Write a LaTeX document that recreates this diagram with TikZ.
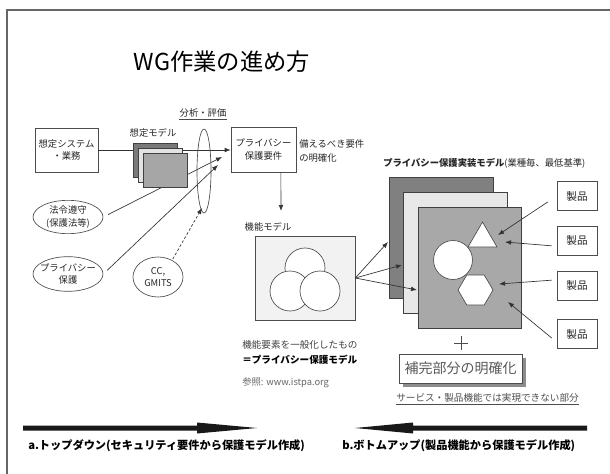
\documentclass[tikz,border=0pt]{standalone}
\usepackage{fontspec}
\setmainfont{Noto Sans CJK JP}
\usetikzlibrary{arrows.meta,shapes.geometric,calc,shadows}
\begin{document}
\begin{tikzpicture}[x=0.75pt,y=-0.75pt,
  every node/.style={inner sep=0pt, text=black!85},
  lbl/.style={font=\fontsize{7}{9.5}\selectfont, align=center},
  box/.style={draw=black!70, line width=0.5pt, fill=white, rectangle},
  oval/.style={draw=black!70, line width=0.5pt, ellipse, inner xsep=-4pt, inner ysep=0pt},
  arr/.style={draw=black!80, line width=0.5pt, -{Latex[length=4.5pt,width=3.5pt]}},
  ln/.style={draw=black!70, line width=0.5pt},
  card/.style={draw=black!75, line width=0.5pt, rectangle},
  bigarrow/.style={fill=black!90},
]
\useasboundingbox (0,0) rectangle (610,474);
% frame
\draw[black!60, line width=0.8pt] (7,474) -- (7,10) -- (610,10);

% title
\node[font=\fontsize{17.5}{20}\selectfont, text=black] (title) at (222,62) {WG作業の進め方};

% left boxes and ovals
\node[box, lbl, minimum width=47.25pt, minimum height=33pt] (sys) at (66.5,150) {想定システム\\・業務};
\node[box, lbl, minimum width=48.75pt, minimum height=33.75pt] (req) at (263.5,149.5) {プライバシー\\保護要件};
\node[oval, lbl, minimum width=52.5pt, minimum height=25pt] (law) at (68,217) {法令遵守\\(保護法等)};
\node[oval, lbl, minimum width=52.5pt, minimum height=26pt] (priv) at (68,274) {プライバシー\\保護};
\node[oval, lbl, minimum width=37.5pt, minimum height=30pt] (cc) at (158,277) {CC,\\GMITS};

\coordinate (t1) at (222,157);
\coordinate (t2) at (218,165);
\coordinate (t3) at (202,208);

% connectors behind the model cards
\draw[arr] (sys.east) -- (sys.east -| req.west);
\draw[arr, shorten <=4pt] (law.east) -- (t1);
\draw[arr, shorten <=4pt] (priv.east) -- (t2);
\draw[arr, dash pattern=on 2pt off 1.5pt, shorten <=1pt] (cc.50) -- (t3);

% assumed model cards
\node[lbl] (mlbl) at (153,133) {想定モデル};
\node[card, fill=black!52, minimum width=33pt, minimum height=25.5pt] (m1) at (155,160) {};
\node[card, fill=black!11, minimum width=33pt, minimum height=25.5pt] (m2) at (160,165) {};
\node[card, fill=black!35, minimum width=33pt, minimum height=25.5pt] (m3) at (165,170) {};

% analysis ellipse
\node[draw=black!70, line width=0.5pt, ellipse, minimum width=10.5pt, minimum height=63pt] (anal) at (204,171) {};
\node[lbl] (anallbl) at (203,113) {分析・評価};
\draw[ln] ([yshift=-1pt]anallbl.south west) -- ([yshift=-1pt]anallbl.south east);

\node[lbl, align=left, anchor=west, font=\fontsize{7}{10.5}\selectfont] (need) at (299,151) {備えるべき要件\\の明確化};

% functional model
\coordinate (t4) at (281,211);
\draw[arr] ([xshift=13pt]req.south) -- (t4);
\node[lbl] (fmlbl) at (268,227) {機能モデル};
\node[box, fill=black!5, minimum width=75pt, minimum height=63pt] (fm) at (305,278) {};
\draw[ln, fill=white] (305,268) circle [radius=15pt];
\draw[ln, fill=white] (290,291) circle [radius=15pt];
\draw[ln, fill=white] (320,291) circle [radius=15pt];

\node[anchor=west, font=\fontsize{7.2}{9}\selectfont, text=black!75] (gen1) at (242,345) {機能要素を一般化したもの};
\node[anchor=west, font=\fontsize{7.2}{9}\selectfont\bfseries, text=black] (gen2) at (242,360) {＝プライバシー保護モデル};
\node[anchor=west, font=\fontsize{7}{9}\selectfont, text=black!60] (ref) at (242,383) {参照: www.istpa.org};

% implementation model cards
\node[anchor=west, font=\fontsize{7}{9}\selectfont] (imlbl) at (383,163) {\textbf{プライバシー保護実装モデル}(業種毎、最低基準)};
\node[card, fill=black!50, minimum width=77.6pt, minimum height=90.75pt] (i1) at (441.5,237.5) {};
\node[card, fill=black!9, minimum width=77.6pt, minimum height=90.75pt] (i2) at (455.5,252.5) {};
\node[card, fill=black!34, minimum width=77.6pt, minimum height=90.75pt] (i3) at (470,267.5) {};

\draw[ln, fill=white] (453,260) circle [radius=14.6pt];
\draw[ln, fill=white] (468,247) -- (497,247) -- (482.5,222) -- cycle;
\draw[ln, fill=white] (458,290) -- (466.75,275) -- (484.25,275) -- (493,290) -- (484.25,305) -- (466.75,305) -- cycle;

\coordinate (c1) at (388,242);
\coordinate (c2) at (402,265);
\coordinate (c3) at (417,290);
\draw[arr] (fm.east) -- (c1);
\draw[arr] (fm.east) -- (c2);
\draw[arr] (fm.east) -- (c3);

% products
\node[box, font=\fontsize{8}{9}\selectfont, minimum width=30pt, minimum height=21.75pt] (p1) at (577,196) {製品};
\node[box, font=\fontsize{8}{9}\selectfont, minimum width=30pt, minimum height=21.75pt] (p2) at (577,240.5) {製品};
\node[box, font=\fontsize{8}{9}\selectfont, minimum width=30pt, minimum height=21.75pt] (p3) at (577,285.5) {製品};
\node[box, font=\fontsize{8}{9}\selectfont, minimum width=30pt, minimum height=21.75pt] (p4) at (577,334) {製品};
\coordinate (s1) at (498,235);
\coordinate (s2) at (505,242);
\coordinate (s3) at (499,284);
\coordinate (s4) at (508,302);
\draw[arr] ([xshift=-6.75pt,yshift=-4.5pt]p1.west) -- (s1);
\draw[arr] ([xshift=-3.75pt,yshift=-4pt]p2.west) -- (s2);
\draw[arr] ([xshift=-3.75pt,yshift=4pt]p3.west) -- (s3);
\draw[arr] ([xshift=-3.75pt,yshift=-3pt]p4.west) -- (s4);

% plus and complement
\draw[black!70, line width=0.5pt] (454,343) -- (468,343) (461,336) -- (461,350);
\node[box, drop shadow={shadow xshift=3pt,shadow yshift=-3pt,fill=black!45,opacity=1}, font=\fontsize{10.5}{12}\selectfont, text=black!65, minimum width=92.25pt, minimum height=21.75pt] (comp) at (460.5,368.5) {補完部分の明確化};
\node[font=\fontsize{7.2}{9}\selectfont, text=black!70] (svc) at (487.5,398) {サービス・製品機能では実現できない部分};
\draw[black!70, line width=0.4pt] ([yshift=-1pt]svc.south west) -- ([yshift=-1pt]svc.south east);

% bottom arrows
\fill[bigarrow] (23,425.5) -- (197,425.5) -- (197,422.5) -- (257,428) -- (197,433.5) -- (197,430.5) -- (23,430.5) -- cycle;
\fill[bigarrow] (587,425.5) -- (413,425.5) -- (413,422.5) -- (355,428) -- (413,433.5) -- (413,430.5) -- (587,430.5) -- cycle;
\node[anchor=west, font=\fontsize{8.4}{10}\selectfont\bfseries, text=black] (topdown) at (28,446) {a.トップダウン(セキュリティ要件から保護モデル作成)};
\node[anchor=west, font=\fontsize{8.4}{10}\selectfont\bfseries, text=black] (bottomup) at (342,446) {b.ボトムアップ(製品機能から保護モデル作成)};
\end{tikzpicture}
\end{document}
